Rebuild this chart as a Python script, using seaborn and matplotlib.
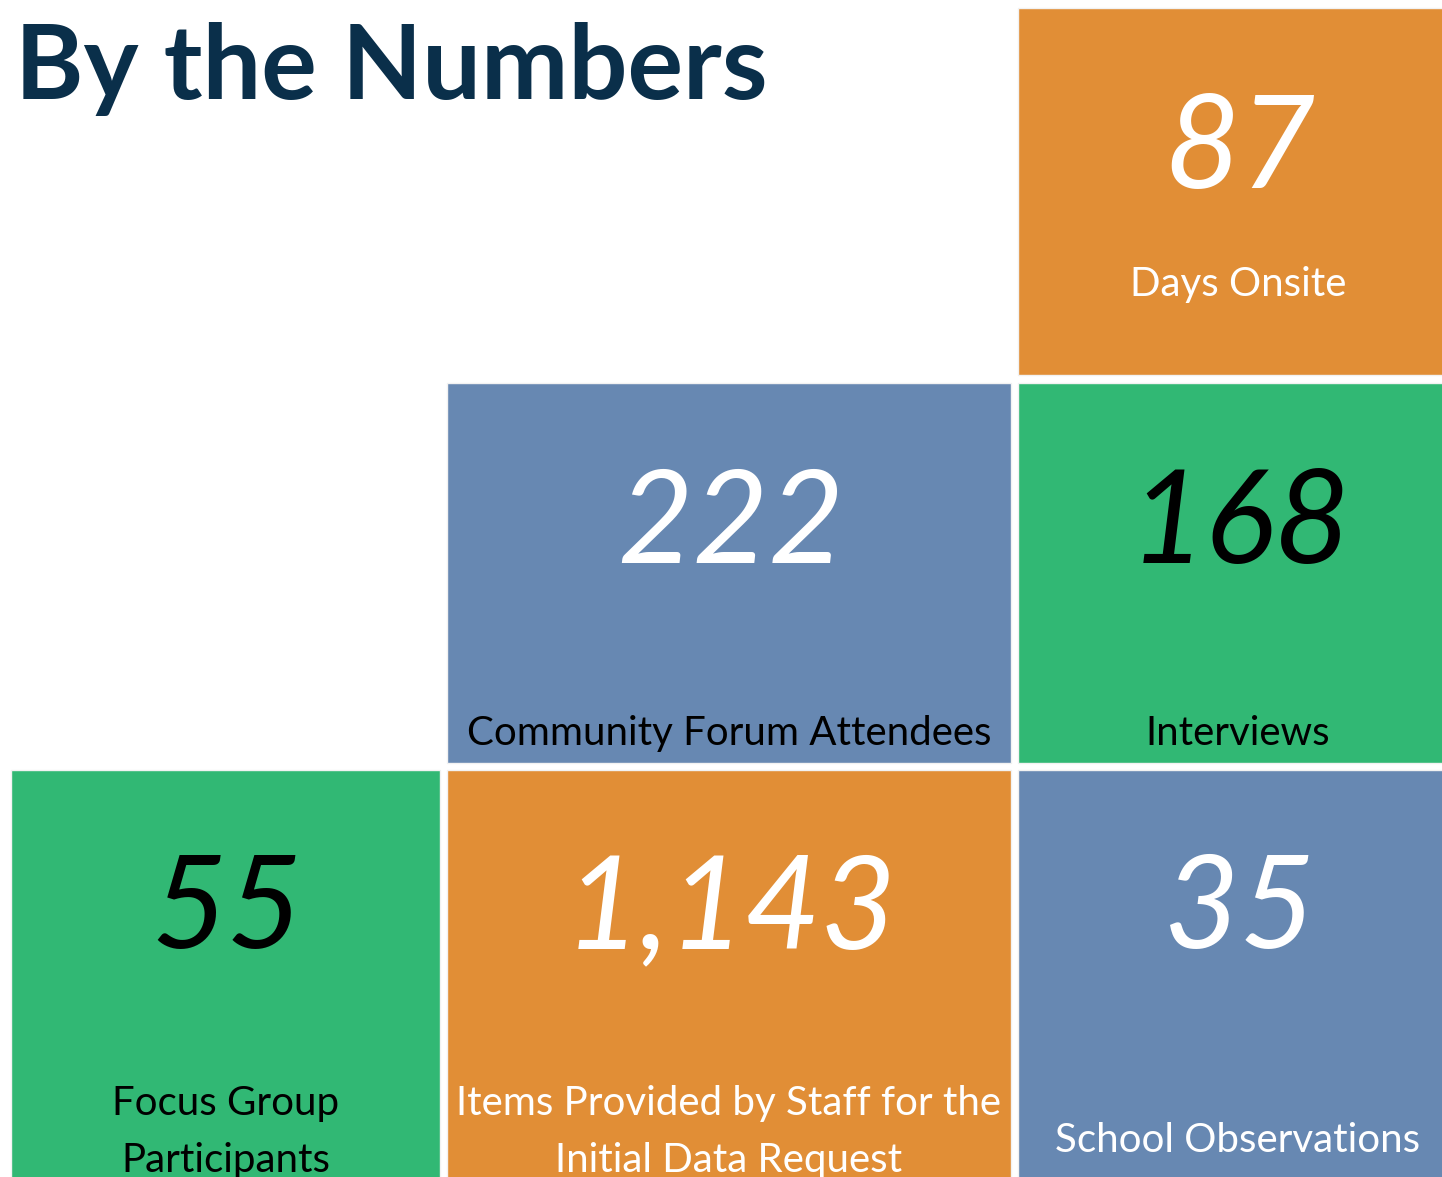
import matplotlib
matplotlib.use("Agg")
import matplotlib.pyplot as plt
import seaborn as sns

# tile data
values = ["87", "222", "168", "55", "1,143", "35"]
labels = ["Days Onsite", "Community Forum Attendees", "Interviews",
          "Focus Group\nParticipants", "Items Provided by Staff for the\nInitial Data Request",
          "School Observations"]
tile_colors = ["#E18E36", "#6788B2", "#31B874", "#31B874", "#E18E36", "#6788B2"]
num_colors = ["white", "white", "black", "black", "white", "white"]
label_colors = ["white", "black", "black", "black", "white", "white"]

# layout (pixels): grid cell of each tile
tile_row = [0, 1, 1, 2, 2, 2]
tile_col = [2, 1, 2, 0, 1, 2]
col_left = [11, 447, 1018]
col_width = [429, 564, 440]  # right column runs off the page
row_top = [8, 383, 770]
row_height = [367, 380, 420]
num_base = [188, 563, 948]          # number baseline per row
label_base = [296, 745, 1115]       # label baseline per row (first line)

sns.set_style("white")
plt.rcParams["font.family"] = ["Lato", "DejaVu Sans"]

fig = plt.figure(figsize=(14.42, 11.77), dpi=100)
ax = fig.add_axes([0, 0, 1, 1])
ax.set_xlim(0, 1442)
ax.set_ylim(1177, 0)
ax.axis("off")

lefts = [col_left[c] for c in tile_col]
widths = [col_width[c] for c in tile_col]
tops = [row_top[r] for r in tile_row]
heights = [row_height[r] for r in tile_row]
ax.bar(lefts, heights, width=widths, bottom=tops, align="edge",
       color=tile_colors, edgecolor="#F2F2F2", linewidth=1)

for i in range(len(values)):
    cx = lefts[i] + widths[i] / 2
    r = tile_row[i]
    ax.text(cx + 2, num_base[r], values[i], color=num_colors[i], fontsize=94,
            style="italic", ha="center", va="baseline")
    lab_y = label_base[r]
    if labels[i] == "School Observations":
        lab_y = 1152
    lines = labels[i].split("\n")
    for k, line in enumerate(lines):
        ax.text(cx, lab_y + 57 * k, line, color=label_colors[i],
                fontsize=29, ha="center", va="baseline")

ax.text(15, 99, "By the Numbers", color="#0A2F4A", fontsize=75,
        fontweight="bold", ha="left", va="baseline")

fig.savefig("out.png", dpi=100)
